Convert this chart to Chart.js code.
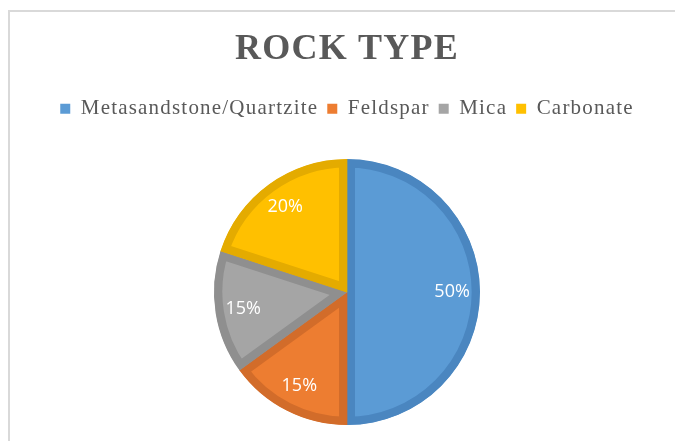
<!DOCTYPE html>
<html>
<head>
<meta charset="utf-8">
<script src="https://cdn.jsdelivr.net/npm/chart.js@4.4.0/dist/chart.umd.min.js"></script>
<style>
    html, body { margin: 0; padding: 0; background: #fff; overflow: hidden; width: 675px; height: 441px; }
    #frame {
        position: absolute; left: 8px; top: 10px;
        border-top: 2px solid #d9d9d9; border-left: 2px solid #d9d9d9;
        width: 674px; height: 443px;
    }
</style>
</head>
<body>
<div id="frame"><canvas id="rock-chart"></canvas></div>
<script>
const categories = ['Metasandstone/Quartzite', 'Feldspar', 'Mica', 'Carbonate'];
const shares = [50, 15, 15, 20];
const sliceColors = ['#5b9bd5', '#ed7d31', '#a5a5a5', '#ffc000'];
const edgeColors = ['#4a86c0', '#d26c2a', '#8f8f8f', '#e4ab00'];

// Excel draws its serif text a bit wider, fake that on the canvas.
const letterSpacing = {
    id: 'letterSpacing',
    beforeLayout(chart) { chart.ctx.letterSpacing = '1.2px'; },
    beforeDraw(chart) { chart.ctx.letterSpacing = '1.2px'; }
};

// Percent labels inside each slice.
const sliceLabels = {
    id: 'sliceLabels',
    afterDatasetsDraw(chart) {
        const ctx = chart.ctx;
        const meta = chart.getDatasetMeta(0);
        ctx.save();
        ctx.letterSpacing = '0px';
        ctx.font = '18px "Open Sans", "Noto Sans", sans-serif';
        ctx.fillStyle = '#ffffff';
        ctx.textAlign = 'center';
        ctx.textBaseline = 'middle';
        meta.data.forEach((arc, i) => {
            const { x, y, startAngle, endAngle, outerRadius } =
                arc.getProps(['x', 'y', 'startAngle', 'endAngle', 'outerRadius'], true);
            const mid = (startAngle + endAngle) / 2;
            const r = outerRadius * 0.79;
            ctx.fillText(shares[i] + '%', x + Math.cos(mid) * r, y + Math.sin(mid) * r);
        });
        ctx.restore();
    }
};

new Chart(document.getElementById('rock-chart'), {
    type: 'pie',
    data: {
        labels: categories,
        datasets: [{
            data: shares,
            backgroundColor: sliceColors,
            borderColor: edgeColors,
            borderWidth: 8,
            borderAlign: 'inner'
        }]
    },
    options: {
        responsive: true,
        maintainAspectRatio: false,
        animation: false,
        radius: 133,
        layout: { padding: 0 },
        plugins: {
            title: {
                display: true,
                text: 'ROCK TYPE',
                color: '#595959',
                font: { family: '"Liberation Serif", "Times New Roman", serif', size: 36, weight: 'bold' },
                padding: { top: 16, bottom: 18 }
            },
            legend: {
                display: true,
                position: 'top',
                labels: {
                    color: '#595959',
                    font: { family: '"Liberation Serif", "Times New Roman", serif', size: 21 },
                    boxWidth: 10,
                    boxHeight: 10,
                    padding: 9,
                    generateLabels(chart) {
                        return categories.map((c, i) => ({
                            text: c,
                            fillStyle: sliceColors[i],
                            strokeStyle: sliceColors[i],
                            lineWidth: 0,
                            fontColor: '#595959',
                            index: i,
                            hidden: false
                        }));
                    }
                }
            },
            tooltip: { enabled: false }
        }
    },
    plugins: [letterSpacing, sliceLabels]
});
</script>
</body>
</html>
